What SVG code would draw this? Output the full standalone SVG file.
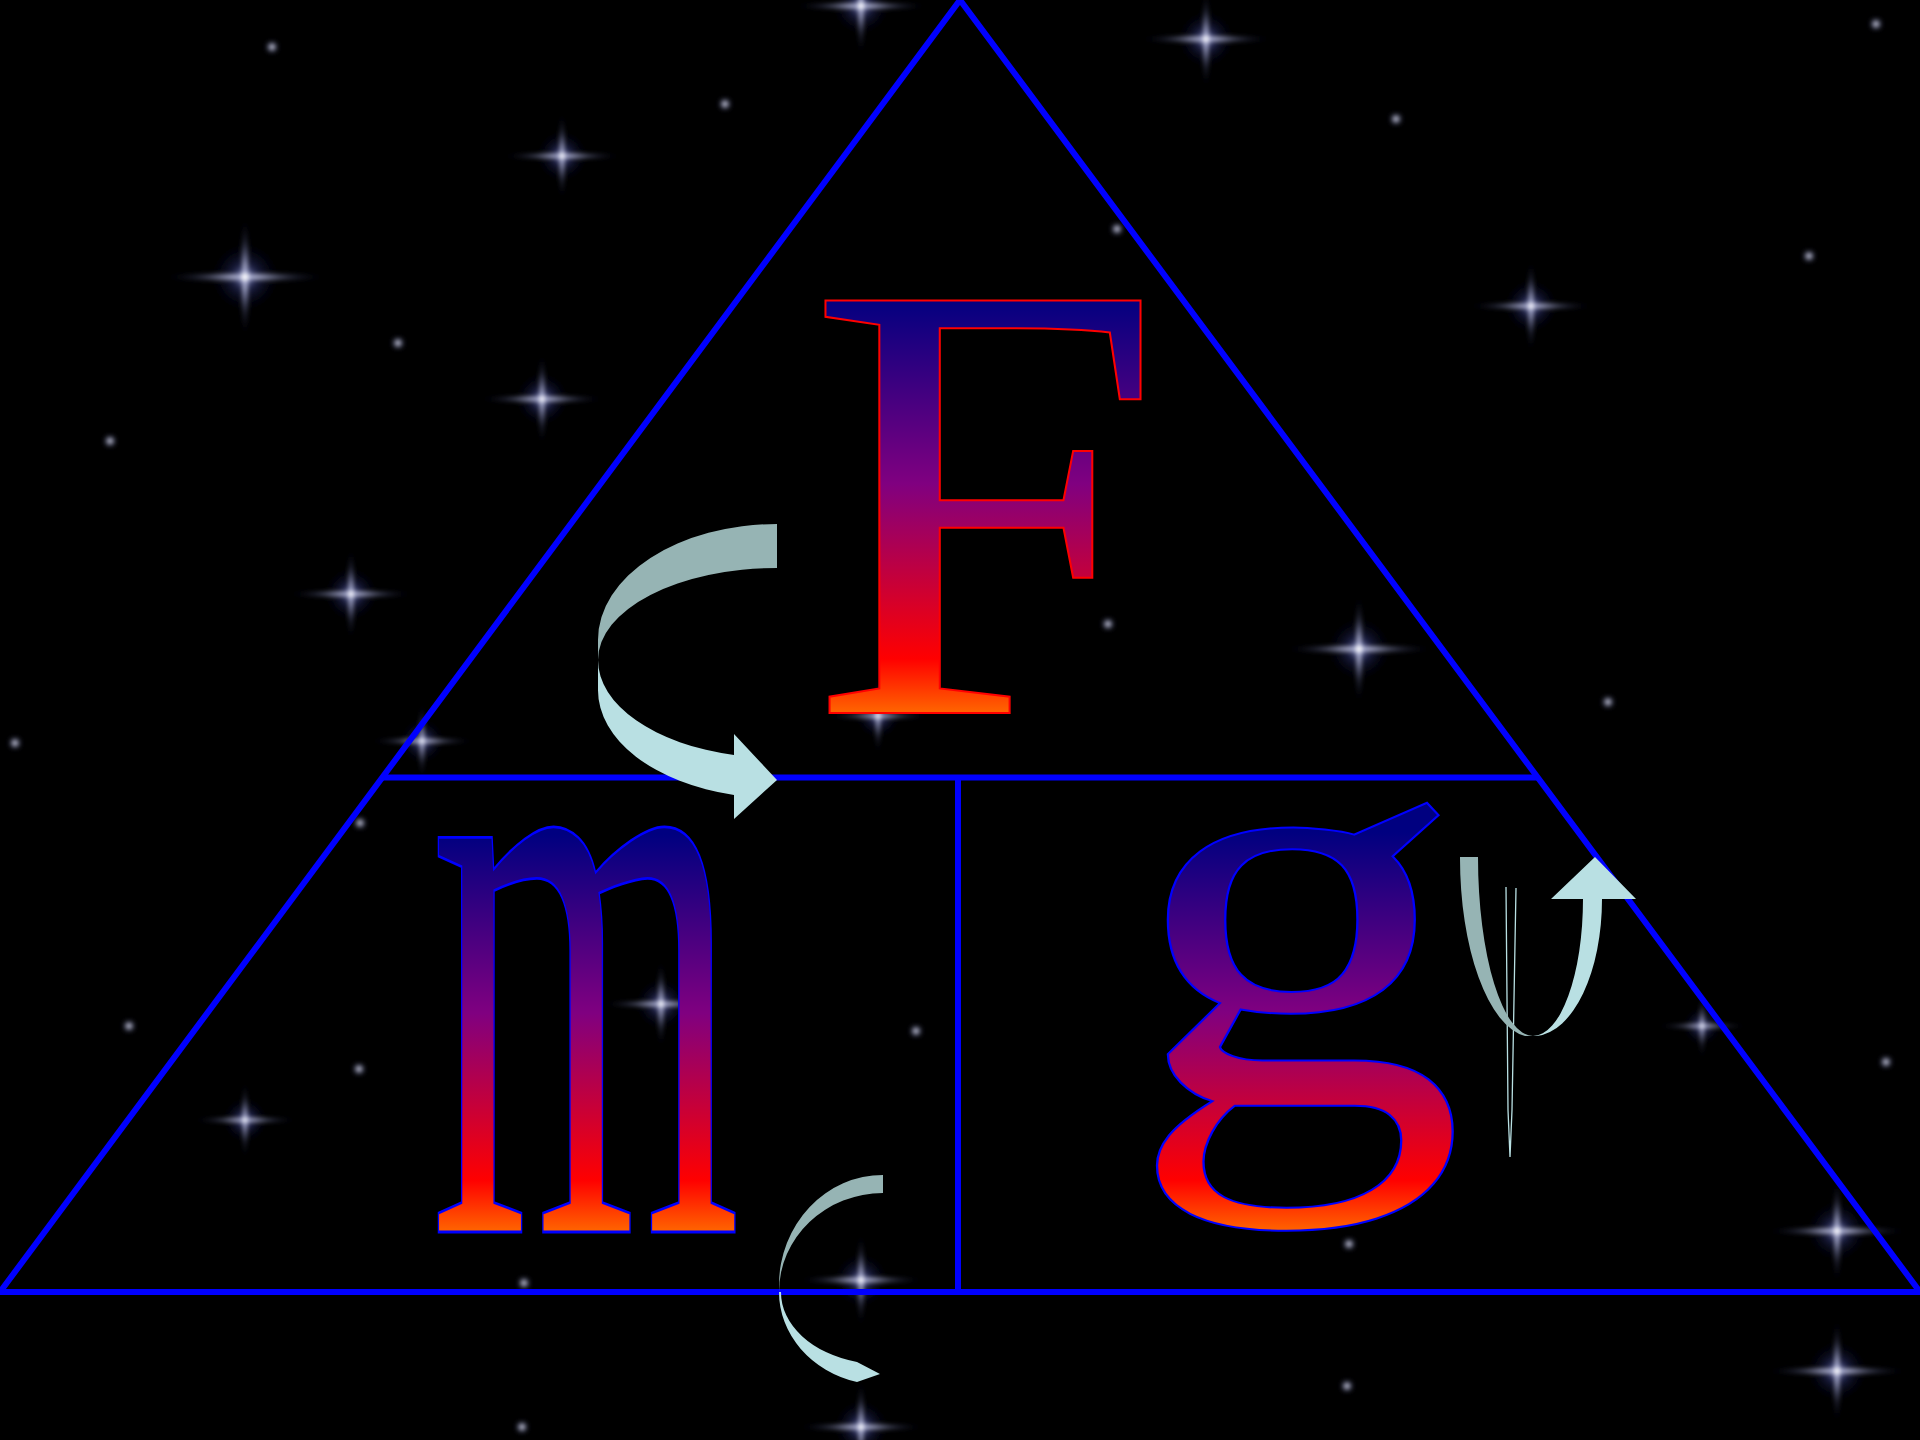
<svg xmlns="http://www.w3.org/2000/svg" width="1920" height="1440" viewBox="0 0 1920 1440">
<defs>
<style>
.tri{fill:none;stroke:#0000FF;stroke-width:6;stroke-linejoin:miter}
.ln{stroke:#0000FF;stroke-width:6}
.letter{font-family:'Liberation Serif','Times New Roman',serif;}
.back{fill:#96B4B4}
.front{fill:#B9E0E3}
</style>
<filter id="soft" x="-50%" y="-50%" width="200%" height="200%">
<feGaussianBlur stdDeviation="2"/>
</filter>
<linearGradient id="base">
<stop offset="0" stop-color="#000080"/>
<stop offset="0.45" stop-color="#800080"/>
<stop offset="0.87" stop-color="#FF0000"/>
<stop offset="1" stop-color="#FF6600"/>
</linearGradient>
<linearGradient id="gF" href="#base" gradientUnits="userSpaceOnUse" x1="0" y1="-417" x2="0" y2="0"/>
<linearGradient id="gM" href="#base" gradientUnits="userSpaceOnUse" x1="0" y1="-185" x2="0" y2="0"/>
<linearGradient id="gG" href="#base" gradientUnits="userSpaceOnUse" x1="0" y1="-272" x2="0" y2="128"/>
<radialGradient id="glow">
<stop offset="0" stop-color="#FFFFFF" stop-opacity="1"/>
<stop offset="0.25" stop-color="#DDE0FF" stop-opacity="0.7"/>
<stop offset="0.6" stop-color="#8088C0" stop-opacity="0.25"/>
<stop offset="1" stop-color="#000030" stop-opacity="0"/>
</radialGradient>
<radialGradient id="halo">
<stop offset="0" stop-color="#C8CCFF" stop-opacity="0.8"/>
<stop offset="0.4" stop-color="#4048A0" stop-opacity="0.35"/>
<stop offset="1" stop-color="#000020" stop-opacity="0"/>
</radialGradient>
<g id="star">
<circle r="32" fill="url(#halo)"/>
<ellipse rx="75" ry="5" fill="url(#glow)"/>
<ellipse rx="5" ry="55" fill="url(#glow)"/>
<circle r="10" fill="url(#glow)"/>
<circle r="3" fill="#FFFFFF"/>
</g>
<g id="dot">
<circle r="8" fill="url(#glow)"/>
</g>
</defs>
<rect width="1920" height="1440" fill="#000000"/>
<g id="stars" filter="url(#soft)">
<use href="#star" transform="translate(861,6) scale(0.9)"/>
<use href="#star" transform="translate(1206,39) scale(0.9)"/>
<use href="#star" transform="translate(562,156) scale(0.8)"/>
<use href="#star" transform="translate(245,277) scale(1.1)"/>
<use href="#star" transform="translate(542,399) scale(0.85)"/>
<use href="#star" transform="translate(1531,306) scale(0.85)"/>
<use href="#star" transform="translate(351,594) scale(0.85)"/>
<use href="#star" transform="translate(1359,649) scale(1)"/>
<use href="#star" transform="translate(422,741) scale(0.7)"/>
<use href="#star" transform="translate(878,716) scale(0.7)"/>
<use href="#star" transform="translate(245,1120) scale(0.7)"/>
<use href="#star" transform="translate(661,1004) scale(0.8)"/>
<use href="#star" transform="translate(861,1280) scale(0.85)"/>
<use href="#star" transform="translate(1837,1231) scale(0.95)"/>
<use href="#star" transform="translate(1837,1371) scale(0.95)"/>
<use href="#star" transform="translate(861,1427) scale(0.85)"/>
<use href="#star" transform="translate(1702,1026) scale(0.6)"/>
<use href="#dot" transform="translate(272,47)"/>
<use href="#dot" transform="translate(725,104)"/>
<use href="#dot" transform="translate(1396,119)"/>
<use href="#dot" transform="translate(1117,229)"/>
<use href="#dot" transform="translate(398,343)"/>
<use href="#dot" transform="translate(110,441)"/>
<use href="#dot" transform="translate(1809,256)"/>
<use href="#dot" transform="translate(1876,24)"/>
<use href="#dot" transform="translate(1108,624)"/>
<use href="#dot" transform="translate(1608,702)"/>
<use href="#dot" transform="translate(15,743)"/>
<use href="#dot" transform="translate(360,823)"/>
<use href="#dot" transform="translate(129,1026)"/>
<use href="#dot" transform="translate(916,1031)"/>
<use href="#dot" transform="translate(359,1069)"/>
<use href="#dot" transform="translate(1886,1062)"/>
<use href="#dot" transform="translate(1349,1244)"/>
<use href="#dot" transform="translate(524,1283)"/>
<use href="#dot" transform="translate(1347,1386)"/>
<use href="#dot" transform="translate(522,1427)"/>
</g>
<g id="triangle">
<polygon class="tri" points="960,0 1920,1292 0,1292"/>
<line class="ln" x1="383" y1="777.5" x2="1537" y2="777.5"/>
<line class="ln" x1="958" y1="777.5" x2="958" y2="1292"/>
</g>
<g id="node-F">
<text class="letter" transform="translate(807,713) scale(1.018,1)" font-size="630" fill="url(#gF)" stroke="#FF0000" stroke-width="2">F</text>
</g>
<g id="node-m">
<text class="letter" transform="translate(430,1232) scale(1,2.15)" font-size="400" fill="url(#gM)" stroke="#0000FF" stroke-width="1.3">m</text>
</g>
<g id="node-g">
<text class="letter" transform="translate(1128,1104) scale(1.15,1)" font-size="587" fill="url(#gG)" stroke="#0000FF" stroke-width="2">g</text>
</g>
<g id="connectors">
<g id="arrow-F-m">
<path class="back" d="M777,524 A179,116 0 0 0 598,640 L598,660 A179,92 0 0 1 777,568 Z"/>
<path class="front" d="M598,660 L598,690 A179,108 0 0 0 734,795 L734,819 L777,780 L734,734 L734,755 A179,98 0 0 1 598,660 Z"/>
</g>
<g id="arrow-m">
<path class="back" d="M883,1175 A104,110 0 0 0 779,1285 L779,1292 A104,99 0 0 1 883,1193 Z"/>
<path class="front" d="M779,1292 A104,93 0 0 0 857,1382 L880,1374 L857,1362 A102,72 0 0 1 781,1292 Z"/>
</g>
<g id="arrow-g">
<path d="M1506,887 L1508,1110 L1510,1157 L1512,1110 L1516,888" fill="none" stroke="#B9E0E3" stroke-width="1.3"/>
<path class="back" d="M1460,857 L1478,857 A55,179 0 0 0 1533,1036 L1525,1036 A73,179 0 0 1 1460,857 Z"/>
<path class="front" d="M1533,1036 A50,137 0 0 0 1583,899 L1551,899 L1595,857 L1636,899 L1602,899 A69,137 0 0 1 1537,1036 Z"/>
</g>
</g>
</svg>
